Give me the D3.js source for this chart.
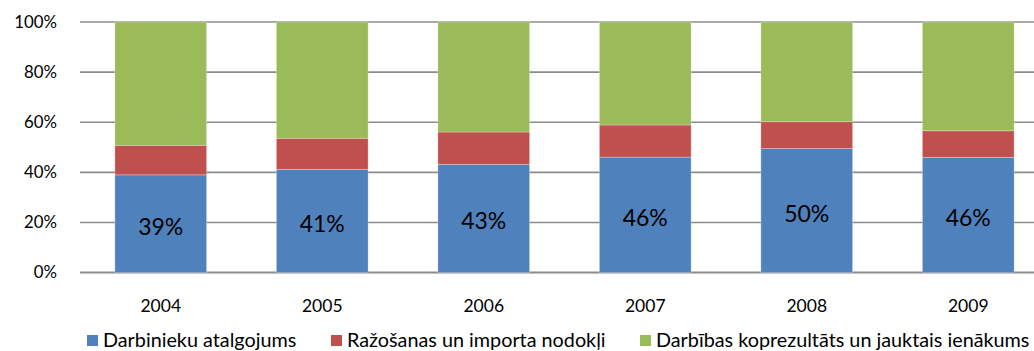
<!DOCTYPE html>
<html>
<head>
<meta charset="utf-8">
<script src="https://cdn.jsdelivr.net/npm/d3@7"></script>
<style>
  html, body { margin: 0; padding: 0; background: #fff; }
  svg { display: block; font-family: Lato, "Open Sans", sans-serif; }
</style>
</head>
<body>
<svg id="chart" width="1034" height="351"></svg>
<script>
// Income components of GDP by year, share of total (%)
const years = ["2004", "2005", "2006", "2007", "2008", "2009"];
const compensation = [39.0, 41.2, 43.2, 46.1, 49.5, 46.0];
const taxes = [11.8, 12.4, 12.9, 12.8, 10.7, 10.6];
const surplus = [49.2, 46.4, 43.9, 41.1, 39.8, 43.4];
const seriesNames = [
  "Darbinieku atalgojums",
  "Ražošanas un importa nodokļi",
  "Darbības koprezultāts un jauktais ienākums"
];
const yTicks = [0, 20, 40, 60, 80, 100];

const colors = ["#4F81BD", "#C0504D", "#9BBB59"];

const svg = d3.select("#chart");
const margin = { left: 80, top: 22 };
const plotH = 250.6;
const band = 161.5;

const x = d3.scaleBand()
  .domain(years)
  .range([margin.left, margin.left + band * years.length])
  .paddingInner(0.432)
  .paddingOuter(0.216);

const y = d3.scaleLinear()
  .domain([0, 100])
  .range([margin.top + plotH, margin.top]);

// Horizontal gridlines and y axis labels
const yAxis = d3.axisLeft(y)
  .tickValues(yTicks)
  .tickSize(0)
  .tickPadding(23)
  .tickFormat(d => d + "%");

const gy = svg.append("g")
  .attr("transform", `translate(${margin.left},0)`)
  .call(yAxis);
gy.select(".domain").remove();
gy.selectAll("text")
  .attr("fill", "#000")
  .style("font-size", "16.8px")
  .style("font-family", "Lato, 'Open Sans', sans-serif");

svg.append("g")
  .selectAll("line")
  .data(yTicks)
  .join("line")
  .attr("x1", margin.left)
  .attr("x2", 1034)
  .attr("y1", d => y(d))
  .attr("y2", d => y(d))
  .attr("stroke", "#8C8C8C")
  .attr("stroke-width", d => d === 0 ? 2 : 1.6);

// Stacked bars
const rows = years.map((yr, i) => ({
  year: yr,
  v: [compensation[i], taxes[i], surplus[i]]
}));
const stack = d3.stack()
  .keys([0, 1, 2])
  .value((d, k) => d.v[k]);
const layers = stack(rows);

svg.append("g")
  .selectAll("g")
  .data(layers)
  .join("g")
  .attr("fill", (d, i) => colors[i])
  .selectAll("rect")
  .data(d => d)
  .join("rect")
  .attr("x", d => x(d.data.year))
  .attr("width", x.bandwidth())
  .attr("y", d => y(d[1]))
  .attr("height", d => y(d[0]) - y(d[1]))
  .attr("stroke", "rgba(255,255,255,0.35)")
  .attr("stroke-width", 0.8);

// Value labels inside the first segment
svg.append("g")
  .selectAll("text")
  .data(layers[0])
  .join("text")
  .attr("x", d => x(d.data.year) + x.bandwidth() / 2)
  .attr("y", d => (y(d[0]) + y(d[1])) / 2 + 2)
  .attr("text-anchor", "middle")
  .attr("dominant-baseline", "central")
  .style("font-size", "23px")
  .attr("fill", "#000")
  .text(d => Math.round(d[1] - d[0]) + "%");

// Category axis labels
const xAxis = d3.axisBottom(x).tickSize(0).tickPadding(0);
const gx = svg.append("g")
  .attr("transform", `translate(0,${margin.top + plotH})`)
  .call(xAxis);
gx.select(".domain").remove();
gx.selectAll("text")
  .attr("y", 39.5)
  .attr("dy", 0)
  .attr("fill", "#000")
  .style("font-size", "17.5px")
  .style("font-family", "Lato, 'Open Sans', sans-serif");

// Legend
const legendX = [87, 331, 640];
const legend = svg.append("g")
  .selectAll("g")
  .data(seriesNames)
  .join("g")
  .attr("transform", (d, i) => `translate(${legendX[i]},335)`);
legend.append("rect")
  .attr("width", 11)
  .attr("height", 11)
  .attr("fill", (d, i) => colors[i]);
legend.append("text")
  .attr("x", 16)
  .attr("y", 12)
  .style("font-size", "19.8px")
  .attr("fill", "#000")
  .text(d => d);
</script>
</body>
</html>
